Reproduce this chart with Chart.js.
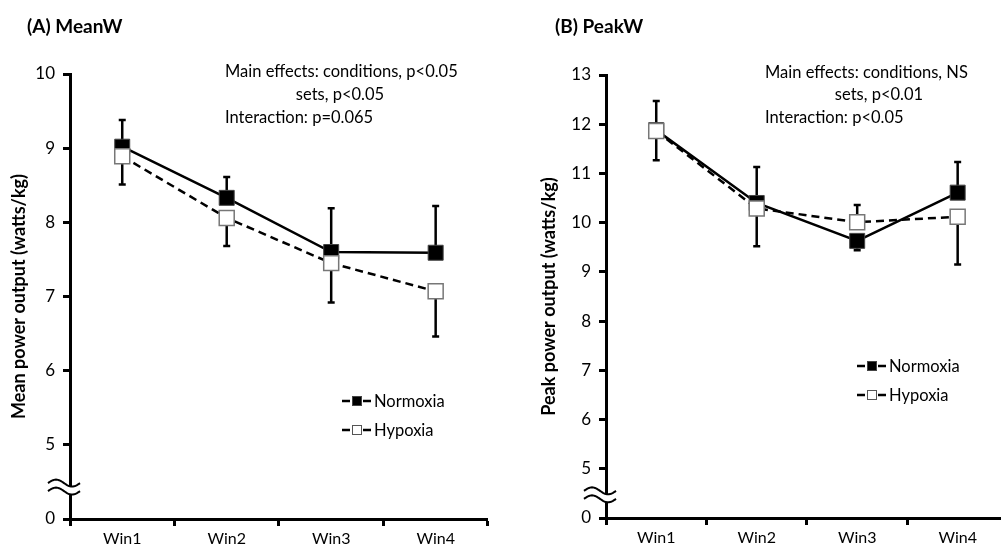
<!DOCTYPE html>
<html>
<head>
<meta charset="utf-8">
<script src="https://cdn.jsdelivr.net/npm/chart.js@4.4.1/dist/chart.umd.min.js"></script>
<style>
  html, body { margin: 0; padding: 0; background: #fff; overflow: hidden; }
  #meanChart { position: absolute; left: 0; top: 0; }
  #peakChart { position: absolute; left: 500px; top: 0; }
</style>
</head>
<body>
<canvas id="meanChart" width="500" height="550"></canvas>
<canvas id="peakChart" width="520" height="550"></canvas>
<script>
const winLabels = ["Win1", "Win2", "Win3", "Win4"];

// (A) mean power, watts/kg
const meanNormoxia = [9.02, 8.33, 7.6, 7.59];
const meanHypoxia = [8.89, 8.06, 7.45, 7.07];
const meanNormoxiaErrUp = [0.36, 0.28, 0.59, 0.63];
const meanNormoxiaErrDown = [0, 0, 0, 0];
const meanHypoxiaErrUp = [0, 0, 0, 0];
const meanHypoxiaErrDown = [0.38, 0.38, 0.53, 0.61];
const meanTickLabels = ["0", "5", "6", "7", "8", "9", "10"];

// (B) peak power, watts/kg
const peakNormoxia = [11.88, 10.4, 9.63, 10.61];
const peakHypoxia = [11.86, 10.29, 10.01, 10.12];
const peakNormoxiaErrUp = [0.59, 0.73, 0, 0.62];
const peakNormoxiaErrDown = [0, 0, 0.19, 0];
const peakHypoxiaErrUp = [0, 0, 0.35, 0];
const peakHypoxiaErrDown = [0.59, 0.77, 0, 0.97];
const peakTickLabels = ["0", "5", "6", "7", "8", "9", "10", "11", "12", "13"];

Chart.defaults.font.family = "Lato";
Chart.defaults.color = "#000";

// error bars under the markers
const errorBars = {
  id: "errorBars",
  beforeDatasetsDraw(chart) {
    const ctx = chart.ctx;
    const y = chart.scales.y;
    ctx.save();
    ctx.strokeStyle = "#000";
    ctx.lineWidth = 2.5;
    chart.data.datasets.forEach((ds, i) => {
      const meta = chart.getDatasetMeta(i);
      meta.data.forEach((pt, j) => {
        const v = ds.data[j];
        [[ds.errUp[j], 1], [ds.errDown[j], -1]].forEach(([e, dir]) => {
          if (!e) return;
          const py = y.getPixelForValue(v + dir * e);
          ctx.beginPath();
          ctx.moveTo(pt.x, pt.y);
          ctx.lineTo(pt.x, py);
          ctx.moveTo(pt.x - 3.5, py);
          ctx.lineTo(pt.x + 3.5, py);
          ctx.stroke();
        });
      });
    });
    ctx.restore();
  },
};

// title, notes, legend and axis break
const panelDecor = {
  id: "panelDecor",
  afterDraw(chart, args, opts) {
    const ctx = chart.ctx;
    const area = chart.chartArea;
    ctx.save();
    ctx.fillStyle = "#000";
    ctx.textBaseline = "alphabetic";
    ctx.font = "bold 19px Lato";
    ctx.textAlign = "left";
    ctx.fillText(opts.title, opts.titleX, 33);

    ctx.font = "16.5px Lato";
    opts.notes.forEach((n) => {
      ctx.textAlign = n.align;
      ctx.fillText(n.text, n.x, n.y);
    });

    // legend
    ctx.textAlign = "left";
    ctx.textBaseline = "middle";
    chart.data.datasets.forEach((ds, k) => {
      const lx = opts.legendX;
      const ly = opts.legendY + k * opts.legendGap;
      ctx.strokeStyle = "#000";
      ctx.lineWidth = 2.5;
      ctx.beginPath();
      ctx.moveTo(lx, ly);
      ctx.lineTo(lx + 8, ly);
      ctx.moveTo(lx + 21, ly);
      ctx.lineTo(lx + 29, ly);
      ctx.stroke();
      ctx.fillStyle = ds.pointBackgroundColor;
      ctx.fillRect(lx + 10, ly - 5, 10, 10);
      ctx.strokeStyle = ds.legendEdge;
      ctx.lineWidth = 1;
      ctx.strokeRect(lx + 10.5, ly - 4.5, 9, 9);
      ctx.fillStyle = "#000";
      ctx.font = "16.5px Lato";
      ctx.fillText(ds.label, lx + 32, ly + 1);
    });

    // axis break
    const by = chart.scales.y.getPixelForValue(opts.breakValue);
    const x0 = area.left - 22;
    const x1 = area.left + 10;
    const wave = (off) => {
      const pts = [];
      for (let x = x0; x <= x1; x += 1) {
        pts.push([x, by + off - 3.5 * Math.sin(((x - x0) / (x1 - x0)) * Math.PI * 2)]);
      }
      return pts;
    };
    const up = wave(-4);
    const dn = wave(4);
    ctx.fillStyle = "#fff";
    ctx.beginPath();
    up.forEach(([x, yy], i) => (i ? ctx.lineTo(x, yy) : ctx.moveTo(x, yy)));
    dn.slice().reverse().forEach(([x, yy]) => ctx.lineTo(x, yy));
    ctx.closePath();
    ctx.fill();
    ctx.strokeStyle = "#000";
    ctx.lineWidth = 2;
    [up, dn].forEach((w) => {
      ctx.beginPath();
      w.forEach(([x, yy], i) => (i ? ctx.lineTo(x, yy) : ctx.moveTo(x, yy)));
      ctx.stroke();
    });
    ctx.restore();
  },
};

function buildPanel(canvasId, p) {
  return new Chart(document.getElementById(canvasId), {
    type: "line",
    plugins: [errorBars, panelDecor],
    data: {
      labels: winLabels,
      datasets: [
        {
          label: "Normoxia",
          data: p.normoxia,
          errUp: p.normoxiaUp,
          errDown: p.normoxiaDown,
          order: 1,
          borderColor: "#000",
          borderWidth: 2.5,
          pointStyle: "rect",
          pointRadius: 10.6,
          pointBackgroundColor: "#000",
          pointBorderColor: "#444",
          pointBorderWidth: 1,
          legendEdge: "#444",
        },
        {
          label: "Hypoxia",
          data: p.hypoxia,
          errUp: p.hypoxiaUp,
          errDown: p.hypoxiaDown,
          order: 0,
          borderColor: "#000",
          borderWidth: 2.5,
          borderDash: [8, 5],
          pointStyle: "rect",
          pointRadius: 10.6,
          pointBackgroundColor: "#fff",
          pointBorderColor: "#777",
          pointBorderWidth: 1.5,
          legendEdge: "#555",
        },
      ],
    },
    options: {
      responsive: false,
      animation: false,
      layout: { padding: { top: p.top, right: p.right, left: 0, bottom: 0 } },
      scales: {
        x: {
          type: "category",
          offset: true,
          border: { color: "#000", width: 3 },
          grid: {
            offset: true,
            drawOnChartArea: false,
            tickLength: 7,
            tickWidth: 3,
            tickColor: "#000",
          },
          ticks: { font: { size: 16 }, padding: 3, maxRotation: 0 },
          afterFit: (s) => { s.height = 550 - p.bottom; },
        },
        y: {
          min: 4,
          max: p.max,
          border: { color: "#000", width: 3 },
          grid: {
            drawOnChartArea: false,
            tickLength: 7,
            tickWidth: 3,
            tickColor: "#000",
          },
          ticks: {
            stepSize: 1,
            font: { size: 17 },
            padding: 8,
            callback: (v, i) => p.tickLabels[i],
          },
          title: {
            display: true,
            text: p.yTitle,
            font: { size: 18, weight: "bold" },
            padding: { top: p.titlePad, bottom: 0 },
          },
          afterFit: (s) => { s.width = p.left; },
        },
      },
      plugins: {
        legend: { display: false },
        tooltip: { enabled: false },
        panelDecor: p.decor,
      },
    },
  });
}

buildPanel("meanChart", {
  normoxia: meanNormoxia,
  hypoxia: meanHypoxia,
  normoxiaUp: meanNormoxiaErrUp,
  normoxiaDown: meanNormoxiaErrDown,
  hypoxiaUp: meanHypoxiaErrUp,
  hypoxiaDown: meanHypoxiaErrDown,
  tickLabels: meanTickLabels,
  max: 10,
  yTitle: "Mean power output (watts/kg)",
  titlePad: 8,
  top: 74,
  right: 12,
  left: 70,
  bottom: 519,
  decor: {
    title: "(A) MeanW",
    titleX: 27,
    notes: [
      { text: "Main effects: conditions, p<0.05", x: 225, y: 77, align: "left" },
      { text: "sets, p<0.05", x: 340, y: 100, align: "center" },
      { text: "Interaction: p=0.065", x: 225, y: 123, align: "left" },
    ],
    legendX: 342,
    legendY: 401,
    legendGap: 29,
    breakValue: 4.43,
  },
});

buildPanel("peakChart", {
  normoxia: peakNormoxia,
  hypoxia: peakHypoxia,
  normoxiaUp: peakNormoxiaErrUp,
  normoxiaDown: peakNormoxiaErrDown,
  hypoxiaUp: peakHypoxiaErrUp,
  hypoxiaDown: peakHypoxiaErrDown,
  tickLabels: peakTickLabels,
  max: 13,
  yTitle: "Peak power output (watts/kg)",
  titlePad: 38,
  top: 75,
  right: 9,
  left: 106,
  bottom: 518,
  decor: {
    title: "(B) PeakW",
    titleX: 55,
    notes: [
      { text: "Main effects: conditions, NS", x: 265, y: 78, align: "left" },
      { text: "sets, p<0.01", x: 379, y: 100, align: "center" },
      { text: "Interaction: p<0.05", x: 265, y: 123, align: "left" },
    ],
    legendX: 357,
    legendY: 366,
    legendGap: 29,
    breakValue: 4.47,
  },
});
</script>
</body>
</html>
